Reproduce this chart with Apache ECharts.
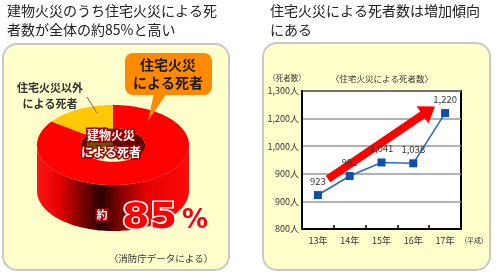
<!DOCTYPE html>
<html>
<head>
<meta charset="utf-8">
<script src="https://cdn.jsdelivr.net/npm/echarts@6/dist/echarts.min.js"></script>
<style>
html,body{margin:0;padding:0;background:#fff;}
#c{width:496px;height:274px;}
</style>
</head>
<body>
<div id="c"></div>
<script>
// ---- data ----
const categories = ['13年', '14年', '15年', '16年', '17年'];
const deaths = [923, 992, 1041, 1038, 1220];
const yTickLabels = ['800人', '900人', '900人', '1,000人', '1,200人', '1,300人'];
const donutNames = ['住宅火災による死者', '住宅火災以外による死者'];
const donutValues = [85, 15];

// ---- styles ----
const FONT = '"Noto Sans CJK JP", "Noto Sans", sans-serif';
const topColors = ['#FF0000', '#FFC800'];
const wallStops = [
  [[0, '#ff1414'], [0.14, '#e80000'], [0.3, '#7a0000'], [0.42, '#2a0000'], [0.56, '#8a0000'], [0.72, '#e40000'], [1, '#ff0a0a']],
  [[0, '#ffd000'], [0.4, '#806000'], [1, '#ffd000']]
];
const innerColors = ['#5a0000', '#6a5000'];
const D = {cx: 113, cy: 145, rx: 76, ry: 40, rx0: 32, h: 46, hIn: 18};

function renderDonut(params, api) {
  const i = params.dataIndex;
  const total = donutValues.reduce((a, b) => a + b, 0);
  let before = 0;
  for (let k = 0; k < i; k++) before += donutValues[k];
  const v = api.value(0);
  const a0 = 90 - 360 * before / total;
  const a1 = 90 - 360 * (before + v) / total;
  const ry0 = D.rx0 * D.ry / D.rx;
  function pt(R, Ry, deg, dy) {
    const t = deg * Math.PI / 180;
    return [D.cx + R * Math.cos(t), D.cy - Ry * Math.sin(t) + (dy || 0)];
  }
  function samples(lo, hi) {
    const n = Math.max(2, Math.ceil((hi - lo) / 2));
    const arr = [];
    for (let j = 0; j <= n; j++) arr.push(hi - (hi - lo) * j / n);
    return arr;
  }
  function ranges(offLo, offHi) {
    const out = [];
    for (let k = -3; k <= 3; k++) {
      const lo = Math.max(a1, offLo + 360 * k), hi = Math.min(a0, offHi + 360 * k);
      if (hi - lo > 0.01) out.push([lo, hi]);
    }
    return out;
  }
  const children = [];
  ranges(-180, 0).forEach(([lo, hi]) => {
    const angs = samples(lo, hi);
    const pts = angs.map(a => pt(D.rx, D.ry, a)).concat(angs.slice().reverse().map(a => pt(D.rx, D.ry, a, D.h)));
    children.push({
      type: 'polygon', z2: 1,
      shape: {points: pts},
      style: {fill: {type: 'linear', x: 0, y: 0, x2: 1, y2: 0, colorStops: wallStops[i].map(s => ({offset: s[0], color: s[1]}))}}
    });
  });
  ranges(0, 180).forEach(([lo, hi]) => {
    const angs = samples(lo, hi);
    const pts = angs.map(a => pt(D.rx0, ry0, a)).concat(angs.slice().reverse().map(a => pt(D.rx0, ry0, a, D.hIn)));
    children.push({
      type: 'polygon', z2: 2,
      shape: {points: pts},
      style: {fill: innerColors[i]}
    });
  });
  const angs = samples(a1, a0);
  const topPts = angs.map(a => pt(D.rx, D.ry, a)).concat(angs.slice().reverse().map(a => pt(D.rx0, ry0, a)));
  children.push({
    type: 'polygon', z2: 10,
    shape: {points: topPts},
    style: {fill: topColors[i]}
  });
  return {type: 'group', children: children};
}

function arrowPoints(x1, y1, x2, y2, sw, hw, hl) {
  const dx = x2 - x1, dy = y2 - y1, L = Math.hypot(dx, dy);
  const ux = dx / L, uy = dy / L, nx = -uy, ny = ux;
  const bx = x2 - ux * hl, by = y2 - uy * hl;
  return [
    [x1 + nx * sw, y1 + ny * sw], [bx + nx * sw, by + ny * sw], [bx + nx * hw, by + ny * hw],
    [x2, y2],
    [bx - nx * hw, by - ny * hw], [bx - nx * sw, by - ny * sw], [x1 - nx * sw, y1 - ny * sw]
  ];
}

const chart = echarts.init(document.getElementById('c'), null, {renderer: 'canvas'});

const option = {
  animation: false,
  backgroundColor: '#ffffff',
  textStyle: {fontFamily: FONT},
  grid: {
    left: 302, top: 91, width: 159, height: 138,
    show: true, backgroundColor: '#ffffff', borderColor: '#000', borderWidth: 2
  },
  xAxis: {
    type: 'category', data: categories, boundaryGap: true,
    axisLine: {lineStyle: {color: '#000', width: 2}},
    axisTick: {show: true, inside: true, length: 4, lineStyle: {color: '#000', width: 1.5}},
    axisLabel: {color: '#333', fontSize: 9, margin: 7, fontFamily: FONT}
  },
  yAxis: {
    type: 'value', min: 800, max: 1300, interval: 100,
    axisLine: {show: true, lineStyle: {color: '#000', width: 2}},
    axisTick: {show: false},
    axisLabel: {
      color: '#333', fontSize: 9, margin: 3, fontFamily: FONT,
      formatter: v => yTickLabels[Math.round((v - 800) / 100)]
    },
    splitLine: {show: true, lineStyle: {color: '#999', width: 1.5}}
  },
  series: [
    {
      type: 'line', data: deaths, z: 20, zlevel: 1,
      lineStyle: {color: '#2f6bbd', width: 1.6},
      symbol: 'rect', symbolSize: 8,
      itemStyle: {color: '#0f4fa8'},
      label: {
        show: true, position: 'top', distance: 5, color: '#333', fontSize: 9.5, fontFamily: FONT,
        formatter: p => p.value.toLocaleString('en-US')
      }
    },
    {
      type: 'custom', coordinateSystem: 'none', z: 3,
      data: donutValues.map((v, i) => ({name: donutNames[i], value: v})),
      renderItem: renderDonut, silent: true
    }
  ],
  graphic: [
    {type: 'rect', z: -10, shape: {x: 3, y: 44, width: 226, height: 226, r: 14}, style: {fill: '#FFFFCC', stroke: '#c8c8c8', lineWidth: 2}},
    {type: 'rect', z: -10, shape: {x: 263, y: 43, width: 227, height: 227, r: 14}, style: {fill: '#FFFFCC', stroke: '#c8c8c8', lineWidth: 2}},
    {type: 'text', z: 10, x: 7, y: 1, style: {text: '建物火災のうち住宅火災による死\n者数が全体の約85%と高い', fontSize: 14, lineHeight: 19, fontFamily: FONT, fill: '#222'}},
    {type: 'text', z: 10, x: 270, y: 1, style: {text: '住宅火災による死者数は増加傾向\nにある', fontSize: 14, lineHeight: 19, fontFamily: FONT, fill: '#222'}},
    {type: 'text', z: 10, x: 50, y: 80, style: {text: '住宅火災以外\nによる死者', fontSize: 11, fontWeight: 'bold', lineHeight: 16, align: 'center', fontFamily: FONT, fill: '#333'}},
    {type: 'line', z: 10, shape: {x1: 87, y1: 97, x2: 97, y2: 113}, style: {stroke: '#666', lineWidth: 1}},
    {type: 'polygon', z: 20, shape: {points: [[154, 93], [167, 93], [148, 121]]}, style: {fill: '#FF8A00'}},
    {type: 'rect', z: 20, shape: {x: 125, y: 53, width: 87, height: 42, r: 8}, style: {fill: '#FF8A00'}},
    {type: 'text', z: 21, x: 168, y: 74, style: {text: '住宅火災\nによる死者', fontSize: 14, fontWeight: 'bold', lineHeight: 18, align: 'center', verticalAlign: 'middle', fontFamily: FONT, fill: '#1a1a1a'}},
    {type: 'text', z: 20, x: 111, y: 144, style: {text: '建物火災\nによる死者', fontSize: 12, fontWeight: 'bold', lineHeight: 17, align: 'center', verticalAlign: 'middle', fontFamily: FONT, fill: '#fff', stroke: '#9a0000', lineWidth: 3}},
    {type: 'text', z: 20, x: 102, y: 215, style: {text: '約', fontSize: 11, fontWeight: 'bold', align: 'center', verticalAlign: 'middle', fontFamily: FONT, fill: '#fff', backgroundColor: '#d00000', padding: [1, 1], stroke: '#600', lineWidth: 1}},
    {type: 'text', z: 20, x: 122, y: 219, scaleX: 1.1, style: {text: '85', fontSize: 36, fontWeight: 900, align: 'left', verticalAlign: 'middle', fontFamily: '"DejaVu Sans", sans-serif', fill: '#FF0000', stroke: '#fff', lineWidth: 3}},
    {type: 'text', z: 20, x: 182, y: 221, style: {text: '%', fontSize: 26, fontWeight: 900, align: 'left', verticalAlign: 'middle', fontFamily: '"DejaVu Sans", sans-serif', fill: '#FF0000', stroke: '#fff', lineWidth: 2}},
    {type: 'text', z: 20, x: 161, y: 258, style: {text: '（消防庁データによる）', fontSize: 9.5, align: 'center', verticalAlign: 'middle', fontFamily: FONT, fill: '#333'}},
    {type: 'text', z: 10, x: 287, y: 78, style: {text: '（死者数）', fontSize: 7.5, align: 'center', verticalAlign: 'middle', fontFamily: FONT, fill: '#333'}},
    {type: 'text', z: 10, x: 382, y: 79, style: {text: '〈住宅火災による死者数〉', fontSize: 8.5, align: 'center', verticalAlign: 'middle', fontFamily: FONT, fill: '#333'}},
    {type: 'text', z: 10, x: 474, y: 240, style: {text: '(平成)', fontSize: 7, align: 'center', verticalAlign: 'middle', fontFamily: FONT, fill: '#333'}},
    {type: 'polygon', z: 1, shape: {points: arrowPoints(328, 179, 435, 106.5, 4, 10.5, 15)}, style: {fill: '#FF0000'}}
  ]
};
chart.setOption(option);
</script>
</body>
</html>
